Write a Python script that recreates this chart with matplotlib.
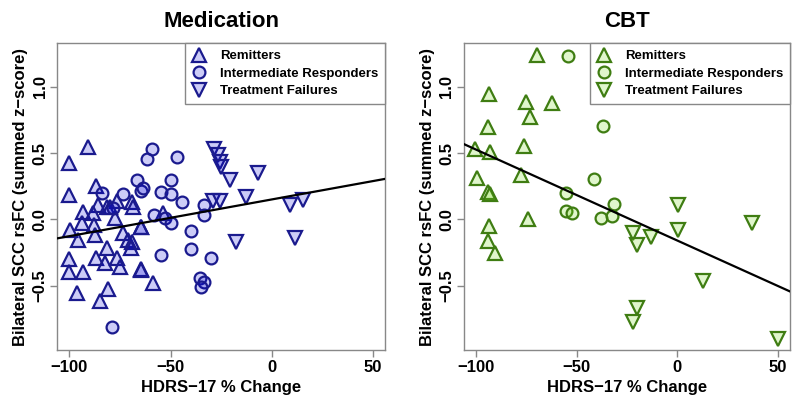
import matplotlib
matplotlib.use("Agg")
import matplotlib.pyplot as plt
from matplotlib.lines import Line2D
import numpy as np

plt.rcParams['font.family'] = ['Liberation Sans', 'DejaVu Sans']
plt.rcParams['font.weight'] = 'bold'

# ---------------- data ----------------
titles = ["Medication", "CBT"]
group_labels = ["Remitters", "Intermediate Responders", "Treatment Failures"]
xlabel = "HDRS\u221217 % Change"
ylabel = "Bilateral SCC rsFC (summed z\u2212score)"
xticks = [-100, -50, 0, 50]
yticks = [-0.5, 0.0, 0.5, 1.0]
ytick_labels = ["\u22120.5", "0.0", "0.5", "1.0"]
xtick_labels = ["\u2212100", "\u221250", "0", "50"]

# Medication panel
med_rem_x = [-90.6, -100, -100, -87, -76.7, -69, -68.5, -85.7, -93.3, -88.2, -81.6, -79.9,
             -77.5, -53.5, -99.7, -93.9, -87.7, -95.6, -87.3, -73.4, -70.9, -69.3, -64.7,
             -64.7, -81.6, -69.6, -100.1, -87, -76.7, -82.4, -75, -100.1, -93.1, -64.7,
             -64.7, -58.6, -96.4, -81.1, -84.9]
med_rem_y = [0.543, 0.427, 0.183, 0.254, 0.140, 0.133, 0.095, 0.110, 0.057, 0.048, 0.095, 0.095,
             0.008, 0.045, -0.081, -0.030, -0.043, -0.156, -0.118, -0.106, -0.156, -0.169, -0.056,
             -0.060, -0.219, -0.219, -0.302, -0.290, -0.294, -0.332, -0.358, -0.395, -0.395, -0.377,
             -0.380, -0.483, -0.558, -0.528, -0.614]
med_int_x = [-59.1, -61.9, -46.6, -84, -73.4, -66.8, -64.7, -63.5, -54.8, -49.9, -49.9, -44.6,
             -33.5, -33.5, -78.3, -58, -52.9, -49.9, -40, -40, -54.8, -30.2, -35.6, -33.5, -34.8,
             -79.1]
med_int_y = [0.533, 0.457, 0.472, 0.201, 0.191, 0.297, 0.216, 0.234, 0.208, 0.297, 0.191, 0.130,
             0.108, 0.032, 0.083, 0.032, 0.008, -0.025, -0.086, -0.226, -0.269, -0.294, -0.445,
             -0.471, -0.513, -0.815]
med_tf_x = [-28.6, -26.6, -25.4, -24.9, -20.5, -6.6, -12.6, 9.2, 15.3, -29.1, -25.8, -17.5, 11.7]
med_tf_y = [0.528, 0.485, 0.435, 0.397, 0.297, 0.352, 0.165, 0.105, 0.148, 0.135, 0.135, -0.169,
            -0.143]

# CBT panel
cbt_rem_x = [-69.8, -93.4, -75, -62.2, -73.4, -93.9, -76.3, -100.5, -93.1, -99.7, -77.9, -93.9,
             -93.1, -74, -93.4, -93.9, -90.6]
cbt_rem_y = [1.24, 0.943, 0.888, 0.875, 0.774, 0.694, 0.553, 0.528, 0.510, 0.309, 0.334, 0.208,
             0.191, 0.0, -0.051, -0.161, -0.257]
cbt_int_x = [-54.5, -36.9, -41.3, -55.3, -31.4, -55.3, -52.3, -38, -32.3]
cbt_int_y = [1.235, 0.704, 0.302, 0.201, 0.115, 0.065, 0.045, 0.008, 0.028]
cbt_tf_x = [0.3, 0.3, -22, -19.9, -13.3, 37.1, 12.6, -19.9, -22, 50]
cbt_tf_y = [0.108, -0.081, -0.106, -0.194, -0.136, -0.030, -0.463, -0.672, -0.773, -0.906]

# regression lines (intercept, slope)
med_fit = [0.150, 0.00277]
cbt_fit = [-0.160, -0.00686]

panels = [
    dict(title=titles[0], groups=[(med_rem_x, med_rem_y), (med_int_x, med_int_y), (med_tf_x, med_tf_y)],
         fit=med_fit, edge='#1a1a8e', face=(0.0, 0.0, 0.85, 0.2)),
    dict(title=titles[1], groups=[(cbt_rem_x, cbt_rem_y), (cbt_int_x, cbt_int_y), (cbt_tf_x, cbt_tf_y)],
         fit=cbt_fit, edge='#3f7d12', face=(0.45, 0.85, 0.1, 0.22)),
]

markers = ['^', 'o', 'v']
msizes = [10.5, 8.5, 10.5]

fig = plt.figure(figsize=(8, 4.07), dpi=100)
axes_pos = [[0.0716, 0.140, 0.4097, 0.7536], [0.580, 0.140, 0.4075, 0.7536]]

for pos, p in zip(axes_pos, panels):
    ax = fig.add_axes(pos)
    for (gx, gy), m, ms in zip(p['groups'], markers, msizes):
        ax.plot(gx, gy, linestyle='none', marker=m, markersize=ms,
                markerfacecolor=p['face'], markeredgecolor=p['edge'], markeredgewidth=1.6)
    xs = np.array([-106, 56])
    ax.plot(xs, p['fit'][0] + p['fit'][1] * xs, color='black', lw=1.6, zorder=5)
    ax.set_xlim(-106, 56)
    ax.set_ylim(-0.986, 1.328)
    ax.set_xticks(xticks)
    ax.set_xticklabels(xtick_labels, fontsize=12, fontweight='bold')
    ax.set_yticks(yticks)
    ax.set_yticklabels(ytick_labels, fontsize=12, fontweight='bold', rotation=90, va='center')
    ax.tick_params(direction='out', length=5, color='#888888', width=1, pad=2)
    for s in ax.spines.values():
        s.set_color('#888888')
        s.set_linewidth(1.0)
    ax.set_title(p['title'], fontsize=16, fontweight='bold', pad=12)
    ax.set_xlabel(xlabel, fontsize=12, fontweight='bold', labelpad=4)
    ax.set_ylabel(ylabel, fontsize=12, fontweight='bold', labelpad=3)
    handles = [Line2D([], [], linestyle='none', marker=m, markersize=ms,
                      markerfacecolor=p['face'], markeredgecolor=p['edge'], markeredgewidth=1.6)
               for m, ms in zip(markers, msizes)]
    leg = ax.legend(handles, group_labels, loc='upper right', borderaxespad=0,
                    fancybox=False, edgecolor='#888888', framealpha=1,
                    prop=dict(size=9.5, weight='bold'), borderpad=0.5,
                    handlelength=1.2, handletextpad=1.0, labelspacing=0.4)
    leg.get_frame().set_linewidth(1.0)

fig.savefig("out.png", dpi=100)
